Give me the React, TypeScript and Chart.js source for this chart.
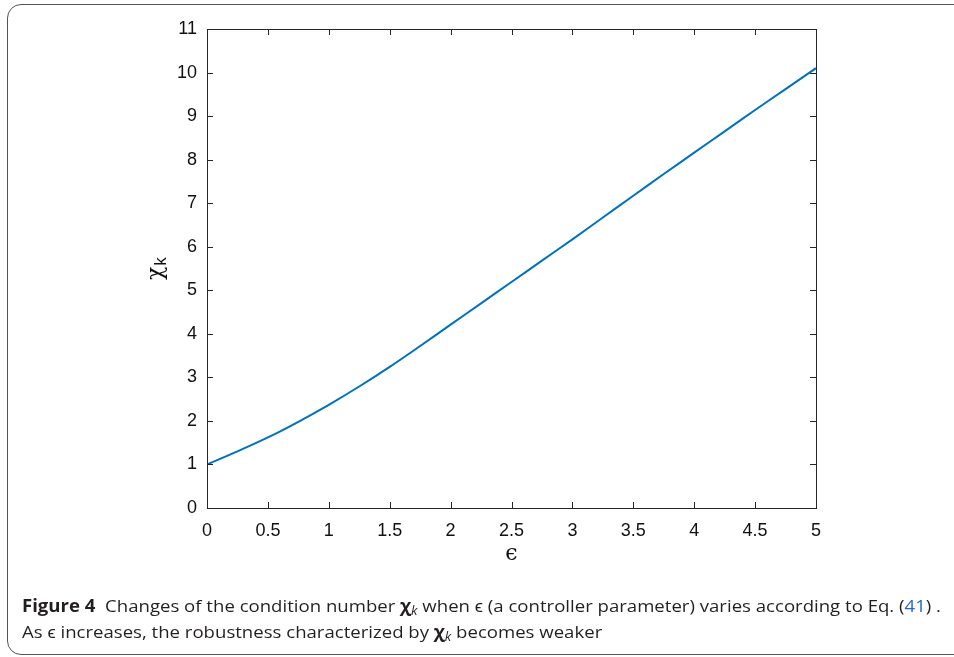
import React, { useEffect, useRef } from "react";
import { Chart, registerables } from "chart.js";

Chart.register(...registerables);

const epsValues = [0, 0.25, 0.5, 0.75, 1, 1.25, 1.5, 1.75, 2, 2.25, 2.5, 2.75, 3, 3.25, 3.5, 3.75, 4, 4.25, 4.5, 4.75, 5];
const chiValues = [1.0, 1.3, 1.62, 1.98, 2.37, 2.79, 3.24, 3.72, 4.21, 4.7, 5.19, 5.68, 6.17, 6.67, 7.17, 7.67, 8.16, 8.65, 9.14, 9.62, 10.1];
const xTickValues = [0, 0.5, 1, 1.5, 2, 2.5, 3, 3.5, 4, 4.5, 5];
const yTickValues = [0, 1, 2, 3, 4, 5, 6, 7, 8, 9, 10, 11];

const AREA = { left: 207, right: 816, top: 29, bottom: 508 };
const W = 954;
const H = 657;

const boxTicks = {
  id: "boxTicks",
  afterDraw(chart: any) {
    const ctx = chart.ctx;
    const a = chart.chartArea;
    const xs = chart.scales.x;
    const ys = chart.scales.y;
    const len = 6;
    ctx.save();
    ctx.strokeStyle = "#262626";
    ctx.lineWidth = 1;
    ctx.strokeRect(Math.round(a.left) + 0.5, Math.round(a.top) + 0.5, Math.round(a.right - a.left), Math.round(a.bottom - a.top));
    ctx.beginPath();
    xTickValues.forEach((v) => {
      const px = Math.round(xs.getPixelForValue(v)) + 0.5;
      ctx.moveTo(px, a.bottom);
      ctx.lineTo(px, a.bottom - len);
      ctx.moveTo(px, a.top);
      ctx.lineTo(px, a.top + len);
    });
    yTickValues.forEach((v) => {
      const py = Math.round(ys.getPixelForValue(v)) + 0.5;
      ctx.moveTo(a.left, py);
      ctx.lineTo(a.left + len, py);
      ctx.moveTo(a.right, py);
      ctx.lineTo(a.right - len, py);
    });
    ctx.stroke();

    // axis titles
    ctx.fillStyle = "#111";
    ctx.textAlign = "center";
    ctx.textBaseline = "middle";
    ctx.font = "22px 'DejaVu Serif'";
    ctx.fillText("\u03F5", (a.left + a.right) / 2, 554);

    ctx.translate(160, 266);
    ctx.rotate(-Math.PI / 2);
    ctx.textAlign = "left";
    ctx.textBaseline = "alphabetic";
    ctx.font = "22px 'DejaVu Serif'";
    const chiW = ctx.measureText("\u03C7").width;
    ctx.fillText("\u03C7", -14, 2);
    ctx.font = "17px 'Liberation Sans'";
    ctx.fillText("k", -14 + chiW + 1, 6);
    ctx.restore();
  },
};

function Caption() {
  const wrap = useRef<HTMLDivElement>(null);
  const l1 = useRef<HTMLSpanElement>(null);
  useEffect(() => {
    if (!wrap.current || !l1.current) return;
    const w = l1.current.getBoundingClientRect().width;
    const s = 919 / w;
    wrap.current.style.transform = `scaleX(${s})`;
  }, []);
  const base: React.CSSProperties = { whiteSpace: "nowrap", display: "inline-block", height: 26 };
  const sub: React.CSSProperties = { fontStyle: "italic", fontSize: 12, lineHeight: 0, verticalAlign: "-3px" };
  return (
    <div
      ref={wrap}
      style={{
        position: "absolute",
        left: 22,
        top: 593,
        transformOrigin: "0 0",
        fontFamily: "'Open Sans', sans-serif",
        fontSize: 17,
        lineHeight: "26px",
        color: "#231f20",
      }}
    >
      <span ref={l1} style={base}>
        <b>Figure 4</b>&nbsp; Changes of the condition number <b>χ</b>
        <span style={sub}>k</span> when ϵ (a controller parameter) varies according to Eq. (
        <span style={{ color: "#2a62d9" }}>41</span>) .
      </span>
      <br />
      <span style={base}>
        As ϵ increases, the robustness characterized by <b>χ</b>
        <span style={sub}>k</span> becomes weaker
      </span>
    </div>
  );
}

export default function App() {
  const canvasRef = useRef<HTMLCanvasElement>(null);
  useEffect(() => {
    if (!canvasRef.current) return;
    const chart = new Chart(canvasRef.current, {
      type: "line",
      data: {
        datasets: [
          {
            data: epsValues.map((x, i) => ({ x, y: chiValues[i] })),
            borderColor: "#0072BD",
            borderWidth: 2,
            pointRadius: 0,
            tension: 0.3,
            fill: false,
          },
        ],
      },
      options: {
        animation: false,
        responsive: false,
        maintainAspectRatio: false,
        layout: { padding: { left: 0, top: AREA.top, right: W - AREA.right, bottom: 0 } },
        plugins: { legend: { display: false }, tooltip: { enabled: false }, title: { display: false } },
        scales: {
          x: {
            type: "linear",
            min: 0,
            max: 5,
            afterFit: (s: any) => {
              s.height = H - AREA.bottom;
            },
            afterBuildTicks: (s: any) => {
              s.ticks = xTickValues.map((v) => ({ value: v }));
            },
            grid: { display: false, drawTicks: false, tickLength: 0 },
            border: { display: false },
            ticks: {
              color: "#111",
              font: { family: "'Liberation Sans', Arial", size: 18 },
              padding: 12,
              maxRotation: 0,
              autoSkip: false,
              callback: (v: any) => String(v),
            },
          },
          y: {
            type: "linear",
            min: 0,
            max: 11,
            afterFit: (s: any) => {
              s.width = AREA.left;
            },
            afterBuildTicks: (s: any) => {
              s.ticks = yTickValues.map((v) => ({ value: v }));
            },
            grid: { display: false, drawTicks: false, tickLength: 0 },
            border: { display: false },
            ticks: {
              color: "#111",
              font: { family: "'Liberation Sans', Arial", size: 18 },
              padding: 10,
              autoSkip: false,
              callback: (v: any) => String(v),
            },
          },
        },
      },
      plugins: [boxTicks],
    });
    return () => chart.destroy();
  }, []);

  return (
    <div style={{ position: "fixed", left: 0, top: 0, width: W, height: H, background: "#fff", overflow: "hidden" }}>
      <div
        style={{
          position: "absolute",
          left: 7,
          top: 4,
          width: 980,
          height: 651,
          border: "1.5px solid #555",
          borderRadius: 14,
          boxSizing: "border-box",
        }}
      />
      <canvas ref={canvasRef} width={W} height={H} style={{ position: "absolute", left: 0, top: 0, width: W, height: H }} />
      <Caption />
    </div>
  );
}
